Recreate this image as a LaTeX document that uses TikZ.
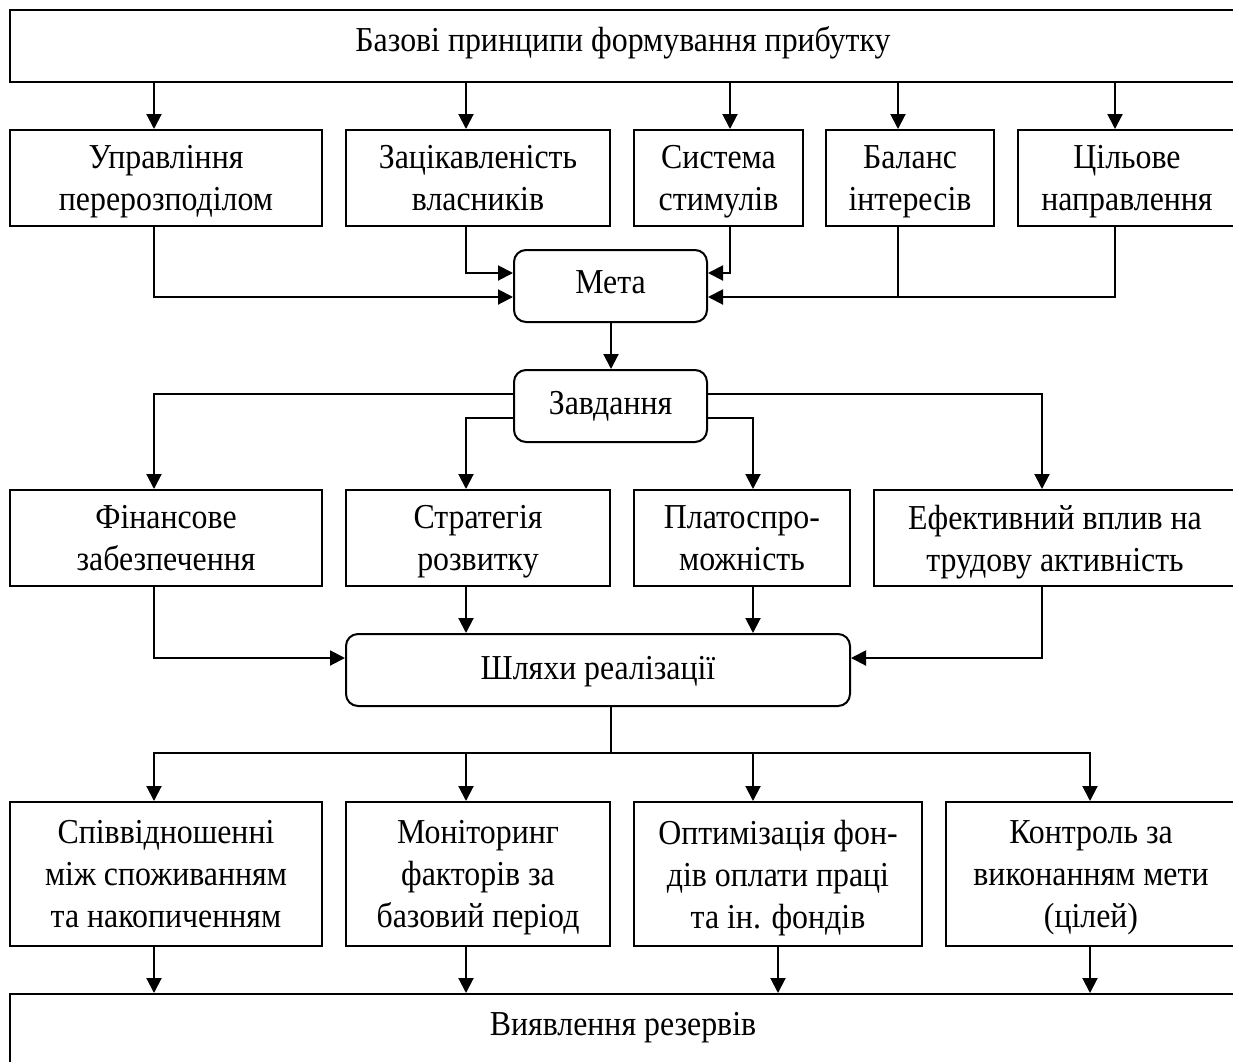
\documentclass[tikz,border=0pt]{standalone}
\usepackage{fontspec}
\setmainfont{Liberation Serif}[FakeStretch=0.91]
\usetikzlibrary{arrows.meta}
\newcommand\ml[1]{\vbox{\halign{\hfil##\hfil\cr#1\crcr}}}
\begin{document}
\begin{tikzpicture}[x=1pt,y=-1pt,
  box/.style={draw, line width=2pt, inner sep=0pt, text depth=0pt, font=\fontsize{35}{42}\selectfont},
  rbox/.style={box, rounded corners=12pt},
  arr/.style={line width=2pt, -{Triangle[length=15pt,width=15pt]}},
  ln/.style={line width=2pt}]
\useasboundingbox (0,0) rectangle (1233,1061);
\fill[white] (0,0) rectangle (1233,1061);

% nodes
\node[box, minimum width=1226pt, minimum height=72pt, text depth=15pt] (top) at (623,46) {\ml{Базові принципи формування прибутку}};

\node[box, minimum width=312pt, minimum height=96pt] (a1) at (166,178) {\ml{Управління\cr перерозподілом}};
\node[box, minimum width=264pt, minimum height=96pt] (a2) at (478,178) {\ml{Зацікавленість\cr власників}};
\node[box, minimum width=169pt, minimum height=96pt] (a3) at (718.5,178) {\ml{Система\cr стимулів}};
\node[box, minimum width=168pt, minimum height=96pt] (a4) at (910,178) {\ml{Баланс\cr інтересів}};
\node[box, minimum width=218pt, minimum height=96pt] (a5) at (1127,178) {\ml{Цільове\cr направлення}};

\node[rbox, minimum width=193pt, minimum height=72pt, text depth=7pt] (meta) at (610.5,286) {\ml{Мета}};
\node[rbox, minimum width=193pt, minimum height=72pt, text depth=7pt] (zav) at (610.5,406) {\ml{Завдання}};

\node[box, minimum width=312pt, minimum height=96pt] (b1) at (166,538) {\ml{Фінансове\cr забезпечення}};
\node[box, minimum width=264pt, minimum height=96pt] (b2) at (478,538) {\ml{Стратегія\cr розвитку}};
\node[box, minimum width=216pt, minimum height=96pt] (b3) at (742,538) {\ml{Платоспро-\cr можність}};
\node[box, minimum width=362pt, minimum height=96pt] (b4) at (1055,538) {\ml{Ефективний вплив на\cr трудову активність}};

\node[rbox, minimum width=504pt, minimum height=72pt, text depth=4pt] (shl) at (598,670) {\ml{Шляхи реалізації}};

\node[box, minimum width=312pt, minimum height=144pt] (c1) at (166,874) {\ml{Співвідношенні\cr між споживанням\cr та накопиченням}};
\node[box, minimum width=264pt, minimum height=144pt] (c2) at (478,874) {\ml{Моніторинг\cr факторів за\cr базовий період}};
\node[box, minimum width=288pt, minimum height=144pt] (c3) at (778,874) {\ml{Оптимізація фон-\cr дів оплати праці\cr та ін. фондів}};
\node[box, minimum width=290pt, minimum height=144pt] (c4) at (1091,874) {\ml{Контроль за\cr виконанням мети\cr (цілей)}};

\node[box, minimum width=1226pt, minimum height=72pt, text depth=12pt] (bot) at (623,1030) {\ml{Виявлення резервів}};

% helper coordinates
\coordinate (xA) at (154,0);
\coordinate (xB) at (466,0);
\coordinate (xC) at (730,0);
\coordinate (xD) at (898,0);
\coordinate (xE) at (1115,0);
\coordinate (xF) at (611,0);
\coordinate (xG) at (753,0);
\coordinate (xH) at (1042,0);
\coordinate (xI) at (778,0);
\coordinate (xJ) at (1090,0);
\coordinate (yM1) at (0,273);
\coordinate (yM2) at (0,297);
\coordinate (yZ1) at (0,394);
\coordinate (yZ2) at (0,418);
\coordinate (yS) at (0,658);
\coordinate (yB) at (0,753);

% connectors
\foreach \n/\x in {a1/xA,a2/xB,a3/xC,a4/xD,a5/xE}
  \draw[arr] (top.south -| \x) -- (\n.north -| \x);

\draw[arr] (a1.south -| xA) |- (meta.west |- yM2);
\draw[arr] (a2.south -| xB) |- (meta.west |- yM1);
\draw[arr] (a3.south -| xC) |- (meta.east |- yM1);
\draw[arr] (a5.south -| xE) |- (meta.east |- yM2);
\draw[ln] (a4.south -| xD) -- (xD |- yM2);

\draw[arr] (meta.south -| xF) -- (zav.north -| xF);

\draw[arr] (zav.west |- yZ1) -| (b1.north -| xA);
\draw[arr] (zav.west |- yZ2) -| (b2.north -| xB);
\draw[arr] (zav.east |- yZ2) -| (b3.north -| xG);
\draw[arr] (zav.east |- yZ1) -| (b4.north -| xH);

\draw[arr] (b2.south -| xB) -- (shl.north -| xB);
\draw[arr] (b3.south -| xG) -- (shl.north -| xG);
\draw[arr] (b1.south -| xA) |- (shl.west |- yS);
\draw[arr] (b4.south -| xH) |- (shl.east |- yS);

\draw[ln] (shl.south -| xF) -- (xF |- yB);
\foreach \n/\x in {c1/xA,c2/xB,c3/xG,c4/xJ}
  \draw[arr] (xF |- yB) -| (\n.north -| \x);

\foreach \n/\x in {c1/xA,c2/xB,c3/xI,c4/xJ}
  \draw[arr] (\n.south -| \x) -- (bot.north -| \x);
\end{tikzpicture}
\end{document}
